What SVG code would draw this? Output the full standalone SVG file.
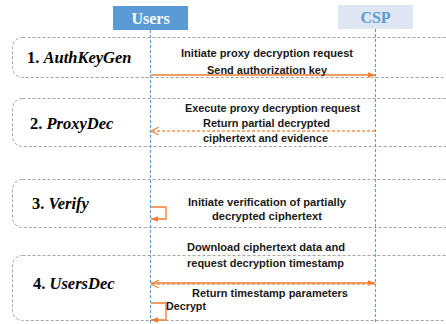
<svg xmlns="http://www.w3.org/2000/svg" width="446" height="324" viewBox="0 0 446 324">
<defs>
<style>
.phase{fill:none;stroke:#a6a6a6;stroke-width:1;stroke-dasharray:3,2}
.life{stroke:#5b9bd5;stroke-width:1;stroke-dasharray:3,2;fill:none}
.msg{font-family:"Liberation Sans",Arial,sans-serif;font-weight:bold;font-size:11px;fill:#1a1a1a;text-anchor:middle}
.lbl{font-family:"Liberation Serif","Times New Roman",serif;font-weight:bold;font-size:16.5px;fill:#000}
.lbl .it{font-style:italic}
.hdr{font-family:"Liberation Serif","Times New Roman",serif;font-weight:bold;font-size:16px;text-anchor:middle}
.solid{stroke:#ed7d31;stroke-width:1.3;fill:none}
.dash{stroke:#f0934f;stroke-width:1.3;fill:none;stroke-dasharray:3,2}
</style>
<marker id="fa" viewBox="0 0 10 10" refX="10" refY="5" markerWidth="7" markerHeight="7" markerUnits="userSpaceOnUse" orient="auto">
<path d="M0,1 L10,5 L0,9 z" fill="#ed7d31"/>
</marker>
<marker id="oa" viewBox="0 0 10 10" refX="10" refY="5" markerWidth="8" markerHeight="8" markerUnits="userSpaceOnUse" orient="auto">
<path d="M0,0 L10,5 L0,10" fill="none" stroke="#f0934f" stroke-width="1.6"/>
</marker>
</defs>
<rect width="446" height="324" fill="#fff"/>

<g id="phase1">
<rect class="phase" x="12.5" y="37.5" width="445" height="40" rx="10"/>
<text class="lbl" x="27" y="63">1. <tspan class="it">AuthKeyGen</tspan></text>
</g>
<g id="phase2">
<rect class="phase" x="12.5" y="98.5" width="445" height="48" rx="10"/>
<text class="lbl" x="30" y="129">2. <tspan class="it">ProxyDec</tspan></text>
</g>
<g id="phase3">
<rect class="phase" x="12.5" y="179.5" width="445" height="48" rx="10"/>
<text class="lbl" x="32" y="209">3. <tspan class="it">Verify</tspan></text>
</g>
<g id="phase4">
<rect class="phase" x="12.5" y="255.5" width="445" height="65" rx="10"/>
<text class="lbl" x="33" y="289">4. <tspan class="it">UsersDec</tspan></text>
</g>

<g id="users">
<rect x="113" y="6" width="75" height="24" fill="#5b9bd5"/>
<text class="hdr" x="150.5" y="24" fill="#fff">Users</text>
<line class="life" x1="150.5" y1="30" x2="150.5" y2="324"/>
</g>
<g id="csp">
<rect x="338" y="5" width="75" height="24" fill="#dde6f2"/>
<text class="hdr" x="375.5" y="23" fill="#5b9bd5">CSP</text>
<line class="life" x1="375.5" y1="29" x2="375.5" y2="324"/>
</g>

<g id="connectors">
<line class="solid" x1="151" y1="75" x2="375" y2="75" marker-end="url(#fa)"/>
<line class="dash" x1="375" y1="131" x2="151" y2="131" marker-end="url(#oa)"/>
<polyline class="solid" points="151,207 166,207 166,219 151,219" marker-end="url(#fa)"/>
<line class="solid" x1="151" y1="283" x2="375" y2="283" marker-end="url(#fa)"/>
<line class="dash" x1="375" y1="284" x2="151" y2="284" marker-end="url(#oa)"/>
<polyline class="solid" points="151,303 166,303 166,320 151,320" marker-end="url(#fa)"/>
</g>

<g id="labels">
<text class="msg" x="267" y="57" textLength="172" lengthAdjust="spacingAndGlyphs">Initiate proxy decryption request</text>
<text class="msg" x="267" y="74" textLength="120" lengthAdjust="spacingAndGlyphs">Send authorization key</text>
<text class="msg" x="272.5" y="112" textLength="175" lengthAdjust="spacingAndGlyphs">Execute proxy decryption request</text>
<text class="msg" x="266.5" y="127" textLength="127" lengthAdjust="spacingAndGlyphs">Return partial decrypted</text>
<text class="msg" x="265.5" y="142" textLength="125" lengthAdjust="spacingAndGlyphs">ciphertext and evidence</text>
<text class="msg" x="267" y="206" textLength="158" lengthAdjust="spacingAndGlyphs">Initiate verification of partially</text>
<text class="msg" x="267" y="220" textLength="110" lengthAdjust="spacingAndGlyphs">decrypted ciphertext</text>
<text class="msg" x="266" y="251" textLength="158" lengthAdjust="spacingAndGlyphs">Download ciphertext data and</text>
<text class="msg" x="265.5" y="267" textLength="157" lengthAdjust="spacingAndGlyphs">request decryption timestamp</text>
<text class="msg" x="270" y="297" textLength="156" lengthAdjust="spacingAndGlyphs">Return timestamp parameters</text>
<text class="msg" x="166" y="310" style="text-anchor:start" textLength="40" lengthAdjust="spacingAndGlyphs">Decrypt</text>
</g>
</svg>
